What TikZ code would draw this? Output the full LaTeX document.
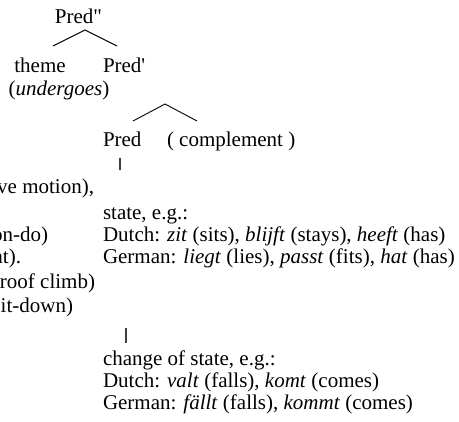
\documentclass[tikz,border=0pt]{standalone}
\usepackage{fontspec}
\setmainfont{Liberation Serif}
\begin{document}
\begin{tikzpicture}[x=1pt,y={(0pt,-1pt)},
  lbl/.style={inner sep=0pt,outer sep=0pt,font=\fontsize{21}{25}\selectfont},
  lw/.style={lbl,anchor=base west},
  lc/.style={lbl,anchor=base},
  le/.style={lbl,anchor=base east},
  branch/.style={line width=0.9pt,black},
  tick/.style={line width=1.3pt,black!75}]
\useasboundingbox (0,0) rectangle (459,422);
\clip (0,0) rectangle (459,422);
% top tree
\node[lc] (predpp) at (78.5,24) {Pred\textquotedbl};
\coordinate (a1) at (85,30);
\coordinate (l1) at (53,46);
\coordinate (r1) at (117,46);
\draw[branch] (l1) -- (a1) -- (r1);
\node[lc] (theme) at (40,73) {theme};
\node[lw] (predp) at (103,73) {Pred\textquotesingle};
\node[lc] (undergoes) at (59,96) {(\textit{undergoes})};
\coordinate (a2) at (165,104);
\coordinate (l2) at (133,121);
\coordinate (r2) at (197,121);
\draw[branch] (l2) -- (a2) -- (r2);
\node[lw] (pred) at (103,147) {Pred};
\node[lw] (compl) at (167,147) {( complement )};
\coordinate (t1a) at (120,158);
\coordinate (t1b) at (120,170);
\draw[tick] (t1a) -- (t1b);
% state block
\node[lw] (state) at (103,220) {state, e.g.:};
\node[lw] (dutch1) at (103,242) {Dutch: \textit{zit} (sits), \textit{blijft} (stays), \textit{heeft} (has)};
\node[lw] (german1) at (103,264) {German: \textit{liegt} (lies), \textit{passt} (fits), \textit{hat} (has)};
% change of state block
\coordinate (t2a) at (126,328);
\coordinate (t2b) at (126,343);
\draw[tick] (t2a) -- (t2b);
\node[lw] (change) at (103,366) {change of state, e.g.:};
\node[lw] (dutch2) at (103,388) {Dutch: \textit{valt} (falls), \textit{komt} (comes)};
\node[lw] (german2) at (103,410) {German: \textit{fällt} (falls), \textit{kommt} (comes)};
% cut-off fragments on the left
\node[le] (f1) at (94,194) {ve motion),};
\node[le] (f2) at (48,242) {on-do)};
\node[le] (f3) at (21,264) {at).};
\node[le] (f4) at (95,289) {roof climb)};
\node[le] (f5) at (73,313) {it-down)};
\end{tikzpicture}
\end{document}
